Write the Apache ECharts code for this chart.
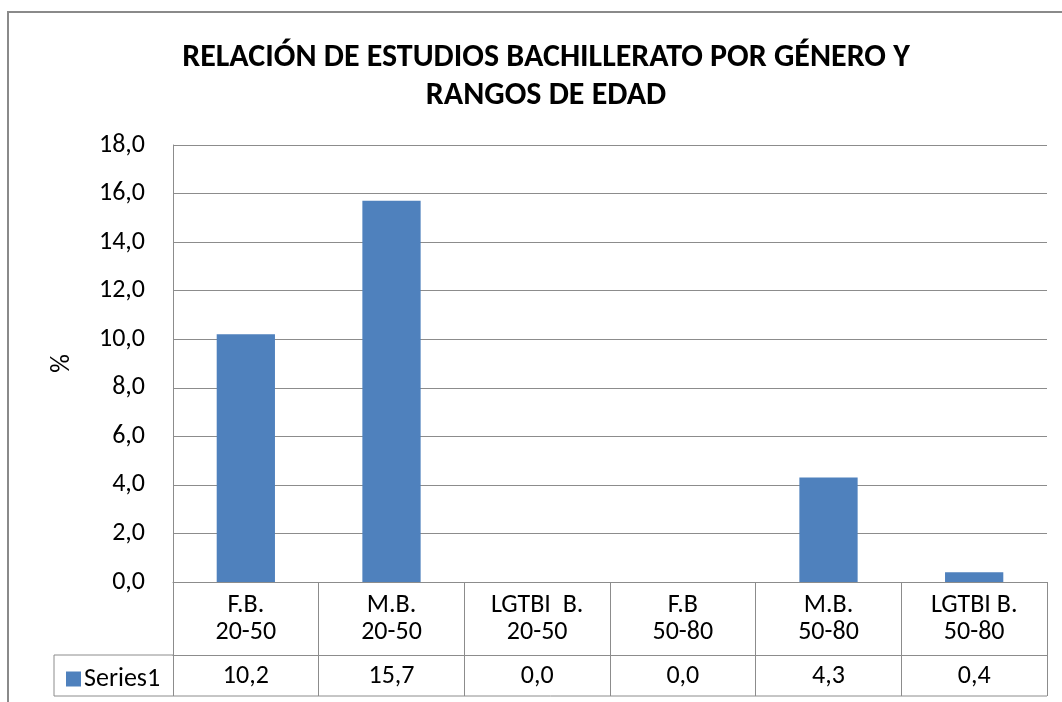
<!DOCTYPE html>
<html>
<head>
<meta charset="utf-8">
<script src="https://cdn.jsdelivr.net/npm/echarts@6/dist/echarts.min.js"></script>
<style>
  html, body { margin: 0; padding: 0; background: #fff; }
  #mainChart { width: 1062px; height: 702px; }
</style>
</head>
<body>
<div id="mainChart"></div>
<script>
  var categories = ['F.B.\n20-50', 'M.B.\n20-50', 'LGTBI  B.\n20-50', 'F.B\n50-80', 'M.B.\n50-80', 'LGTBI B.\n50-80'];
  var values = [10.2, 15.7, 0.0, 0.0, 4.3, 0.4];
  var seriesName = 'Series1';
  var yTicks = { min: 0, max: 18, interval: 2 };

  function fmt(v) { return v.toFixed(1).replace('.', ','); }

  var gridLeft = 173, gridRight = 1047, gridTop = 145, gridBottom = 582;
  var row1 = 655, row2 = 696, tableLeft = 54;
  var lineColor = '#8c8c8c';
  var font = 'Calibri, Carlito, "Open Sans", "Liberation Sans", sans-serif';

  var options = {
    backgroundColor: '#fff',
    animation: false,
    title: {
      text: 'RELACIÓN DE ESTUDIOS BACHILLERATO POR GÉNERO Y\nRANGOS DE EDAD',
      left: 541,
      top: 34,
      textAlign: 'center',
      textStyle: { fontFamily: font, fontSize: 32, fontWeight: 'bold', color: '#000', lineHeight: 38 }
    },
    grid: { left: gridLeft, right: 1062 - gridRight, top: gridTop, bottom: 702 - gridBottom },
    legend: {
      data: [seriesName],
      left: 61,
      top: 661,
      icon: 'rect',
      itemWidth: 15,
      itemHeight: 15,
      itemGap: 5,
      textStyle: { fontFamily: font, fontSize: 26, color: '#000', padding: [0, 0, 0, -2] }
    },
    xAxis: [{
      type: 'category',
      data: categories,
      axisLine: { lineStyle: { color: lineColor, width: 1 } },
      axisTick: { show: true, length: row2 - gridBottom, interval: 0, lineStyle: { color: lineColor } },
      axisLabel: { interval: 0, margin: 10, fontFamily: font, fontSize: 26, color: '#000', lineHeight: 27 }
    }, {
      type: 'category',
      position: 'bottom',
      offset: row1 - gridBottom,
      data: values.map(fmt),
      axisLine: { lineStyle: { color: lineColor, width: 1 } },
      axisTick: { show: false },
      axisLabel: { interval: 0, margin: 8, fontFamily: font, fontSize: 26, color: '#000' }
    }],
    yAxis: {
      type: 'value',
      min: yTicks.min,
      max: yTicks.max,
      interval: yTicks.interval,
      name: '%',
      nameLocation: 'middle',
      nameRotate: 90,
      nameGap: 98,
      nameTextStyle: { fontFamily: font, fontSize: 26, color: '#000' },
      axisLine: { show: true, lineStyle: { color: lineColor } },
      axisTick: { show: false },
      axisLabel: { margin: 28, fontFamily: font, fontSize: 26, color: '#000', formatter: fmt },
      splitLine: { lineStyle: { color: lineColor } }
    },
    series: [{
      name: seriesName,
      type: 'bar',
      data: values,
      barWidth: '40%',
      itemStyle: { color: '#4f81bd' }
    }],
    graphic: [{
      type: 'rect',
      shape: { x: 8, y: 12, width: 1100, height: 800 },
      style: { fill: null, stroke: '#8a8a8a', lineWidth: 2 },
      silent: true
    }, {
      type: 'polyline',
      shape: { points: [[gridLeft, row1], [tableLeft, row1], [tableLeft, row2], [gridRight, row2]] },
      style: { fill: null, stroke: lineColor, lineWidth: 1 },
      silent: true
    }]
  };

  var mainChart = echarts.init(document.getElementById('mainChart'));
  mainChart.setOption(options);
  window.onresize = function () { mainChart.resize(); };
</script>
</body>
</html>
